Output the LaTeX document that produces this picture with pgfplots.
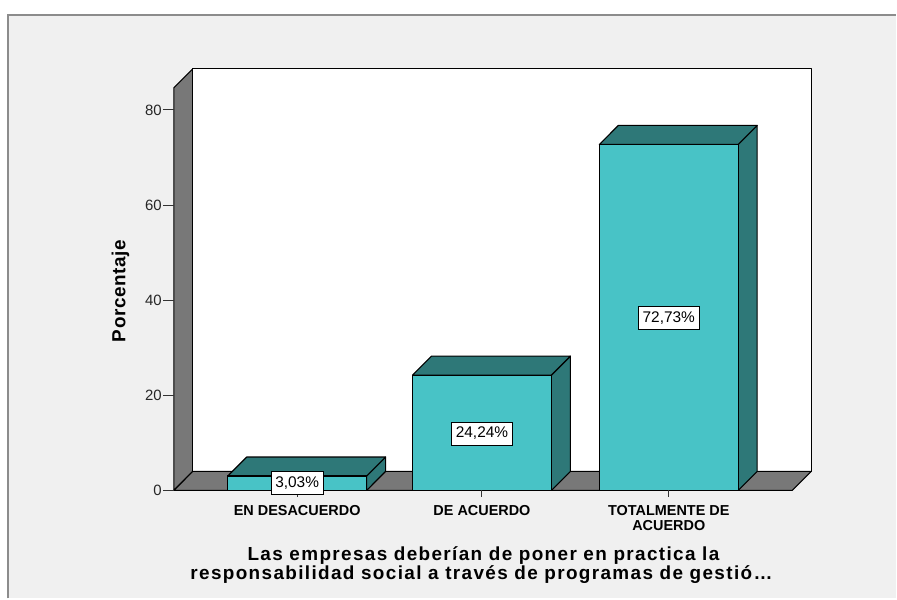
\documentclass[border=0pt]{standalone}
\usepackage{pgfplots}
\pgfplotsset{compat=1.18}
\usepackage{pgfplotstable}
\usepackage{fontspec}
\setmainfont{Liberation Sans}
\newfontfamily\titlefont[LetterSpace=7.2]{Liberation Sans}
\newfontfamily\ylabfont[LetterSpace=3]{Liberation Sans}
\definecolor{barfront}{RGB}{72,195,198}
\definecolor{bardark}{RGB}{46,120,120}
\definecolor{wall}{RGB}{120,120,120}
\definecolor{panel}{RGB}{240,240,240}
\definecolor{panelborder}{RGB}{140,140,140}

% bar centre (px) and percentage
\pgfplotstableread{
x val
297.5 3.03
482.5 24.24
669.5 72.73
}\bars

\begin{document}
\begin{tikzpicture}
\begin{axis}[
  width=897bp, height=599bp, scale only axis,
  xmin=0, xmax=897, ymin=-22.68, ymax=103.1,
  hide axis, clip=false,
]
% background
\fill[white] (0,-22.68) rectangle (897,103.1);
\fill[panel] (8,-22.68) rectangle (897,100.05);
\draw[panelborder, line width=2bp] (8,-22.68) -- (8,100.05) -- (897,100.05);

% walls
\addplot[fill=wall, draw=black, line width=1.1bp, line join=round] coordinates {(174,0) (174,84.62) (193,88.61) (193,4)} -- cycle;
\addplot[fill=white, draw=black, line width=1.1bp, line join=round] coordinates {(193,4) (193,88.61) (812,88.61) (812,4)} -- cycle;
\addplot[fill=wall, draw=black, line width=1.1bp, line join=round] coordinates {(174,0) (793,0) (812,4) (193,4)} -- cycle;

% y ticks
\pgfplotsinvokeforeach{0,20,40,60,80}{
  \draw[black!80, line width=1bp] (163,#1) -- (174,#1);
  \node[anchor=east, inner sep=0pt, text=black!85, font=\fontsize{15}{15}\selectfont] at (162,#1) {#1};
}

% bar side and top faces
\addplot[fill=bardark, draw=black, line width=1.1bp, line join=round] coordinates {(367,0) (386,4) (386,7.03) (367,3.03)} -- cycle;
\addplot[fill=bardark, draw=black, line width=1.1bp, line join=round] coordinates {(228,3.03) (247,7.03) (386,7.03) (367,3.03)} -- cycle;
\addplot[fill=bardark, draw=black, line width=1.1bp, line join=round] coordinates {(552,0) (571,4) (571,28.24) (552,24.24)} -- cycle;
\addplot[fill=bardark, draw=black, line width=1.1bp, line join=round] coordinates {(413,24.24) (432,28.24) (571,28.24) (552,24.24)} -- cycle;
\addplot[fill=bardark, draw=black, line width=1.1bp, line join=round] coordinates {(739,0) (758,4) (758,76.73) (739,72.73)} -- cycle;
\addplot[fill=bardark, draw=black, line width=1.1bp, line join=round] coordinates {(600,72.73) (619,76.73) (758,76.73) (739,72.73)} -- cycle;

% bar front faces
\addplot[ybar, bar width=139, bar shift=0, fill=barfront, draw=black, line width=1.1bp] table[x=x, y=val] {\bars};

% x ticks
\pgfplotsinvokeforeach{297.5,482.5,669.5}{
  \draw[black!80, line width=1bp] (#1,0) -- (#1,-1.47);
}

% value labels
\tikzset{vl/.style={draw=black, fill=white, line width=0.8bp, inner xsep=4bp, inner ysep=0bp, minimum height=23bp, font=\fontsize{15.5}{15.5}\selectfont}}
\node[vl] at (297.5,1.57) {3,03\%};
\node[vl] at (482.5,11.97) {24,24\%};
\node[vl] at (669.5,36.33) {72,73\%};

% category labels
\tikzset{cl/.style={anchor=base, inner sep=0pt, font=\fontsize{14.5}{14.5}\selectfont\bfseries}}
\node[cl] at (297.5,-5.30) {EN DESACUERDO};
\node[cl] at (482.5,-5.30) {DE ACUERDO};
\node[cl] at (669.5,-5.30) {TOTALMENTE DE};
\node[cl] at (669.5,-8.32) {ACUERDO};

\coordinate (ylab) at (120.5,41.9);
\coordinate (xlabA) at (484,-14.70);
\coordinate (xlabB) at (482,-18.62);
\end{axis}
% axis titles
\node[rotate=90, inner sep=0pt, font=\ylabfont\fontsize{19}{19}\selectfont\bfseries] at (ylab) {Porcentaje};
\node[anchor=base, inner sep=0pt, font=\titlefont\fontsize{19}{19}\selectfont\bfseries] at (xlabA) {Las empresas deber^^^^00edan de poner en practica la};
\node[anchor=base, inner sep=0pt, font=\titlefont\fontsize{19}{19}\selectfont\bfseries] at (xlabB) {responsabilidad social a trav^^^^00e9s de programas de gesti^^^^00f3^^^^2026};
\end{tikzpicture}
\end{document}
